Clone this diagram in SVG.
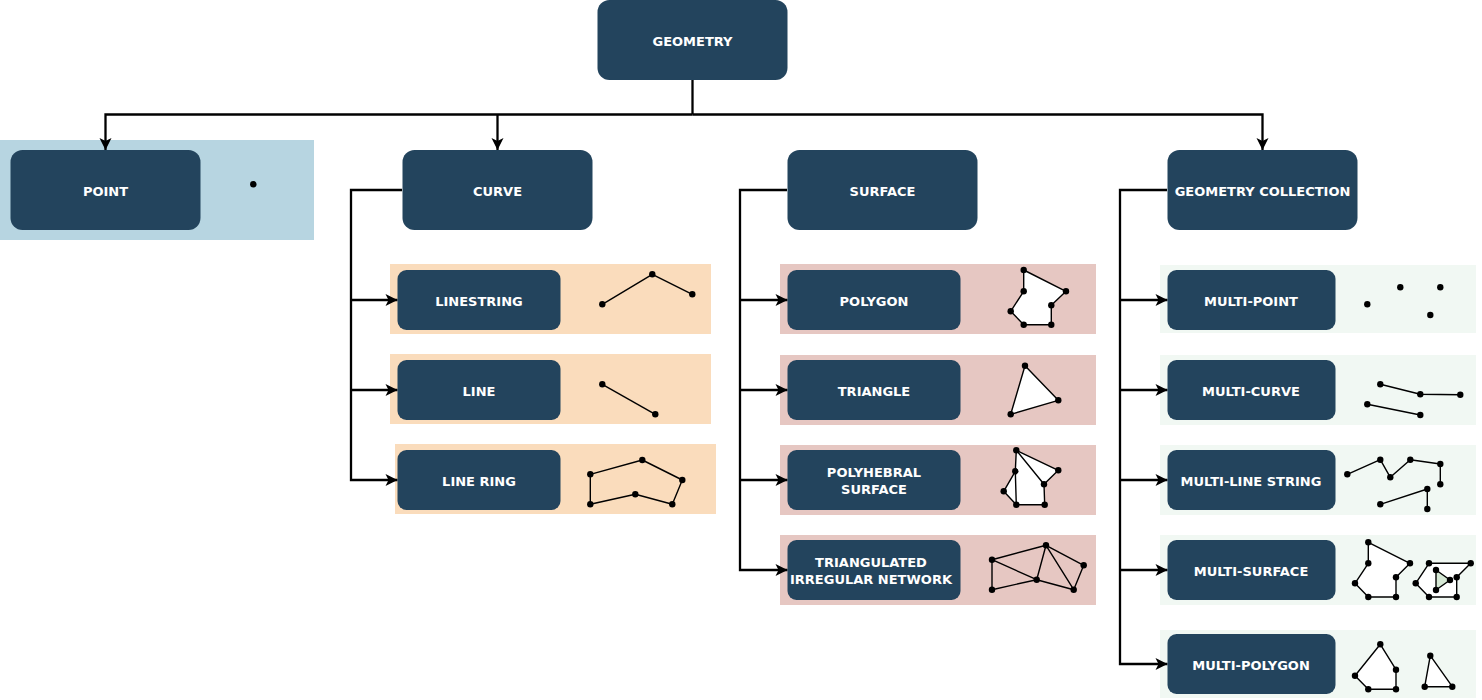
<svg xmlns="http://www.w3.org/2000/svg" width="1482" height="700" viewBox="0 0 1482 700">
<style>
.n{fill:#23445d}
.t{fill:#fff;font-family:"DejaVu Sans",sans-serif;font-weight:700;font-size:13px;text-anchor:middle}
.c{fill:none;stroke:#000;stroke-width:2.3}
.s{fill:none;stroke:#000;stroke-width:1.4;stroke-linejoin:round}
.w{fill:#fff;stroke:#000;stroke-width:1.4;stroke-linejoin:round}
.o{fill:#fadcbc}.r{fill:#e6c7c2}.g{fill:#f1f8f3}
</style>
<defs>
<marker id="a" markerUnits="userSpaceOnUse" markerWidth="14" markerHeight="14" refX="12" refY="6" orient="auto" overflow="visible"><path d="M0 0L12 6L0 12L3 6Z" fill="#000"/></marker>
<circle id="d" r="3.200" fill="#000"/>
</defs>
<g id="backgrounds">
<rect x="0" y="140" width="314" height="100" fill="#b7d5e1"/>
<rect class="o" x="390" y="264" width="321" height="70"/>
<rect class="o" x="390" y="354" width="321" height="70"/>
<rect class="o" x="395" y="444" width="321" height="70"/>
<rect class="r" x="780" y="264" width="316" height="70"/>
<rect class="r" x="780" y="355" width="316" height="70"/>
<rect class="r" x="780" y="445" width="316" height="70"/>
<rect class="r" x="780" y="535" width="316" height="70"/>
<rect class="g" x="1160" y="265" width="316" height="68"/>
<rect class="g" x="1160" y="355" width="316" height="70"/>
<rect class="g" x="1160" y="445" width="316" height="70"/>
<rect class="g" x="1160" y="535" width="316" height="70"/>
<rect class="g" x="1160" y="630" width="316" height="68"/>
</g>
<g id="connectors">
<path class="c" d="M692.500 80V114.500"/>
<path class="c" d="M692.500 114.500H105.500V150" marker-end="url(#a)"/>
<path class="c" d="M497.500 114.500V150" marker-end="url(#a)"/>
<path class="c" d="M692.500 114.500H1262.500V150" marker-end="url(#a)"/>
<path class="c" d="M402 190H351V480H397.500" marker-end="url(#a)"/>
<path class="c" d="M351 300H397.500" marker-end="url(#a)"/>
<path class="c" d="M351 390H397.500" marker-end="url(#a)"/>
<path class="c" d="M787 190H740V570H787.500" marker-end="url(#a)"/>
<path class="c" d="M740 300H787.500" marker-end="url(#a)"/>
<path class="c" d="M740 390H787.500" marker-end="url(#a)"/>
<path class="c" d="M740 480H787.500" marker-end="url(#a)"/>
<path class="c" d="M1167 190H1120V664H1167.500" marker-end="url(#a)"/>
<path class="c" d="M1120 300H1167.500" marker-end="url(#a)"/>
<path class="c" d="M1120 390H1167.500" marker-end="url(#a)"/>
<path class="c" d="M1120 480H1167.500" marker-end="url(#a)"/>
<path class="c" d="M1120 570H1167.500" marker-end="url(#a)"/>
</g>
<g id="geometry"><rect class="n" x="597.500" y="0" width="190" height="80" rx="12"/><text class="t" x="692.500" y="46">GEOMETRY</text></g>
<g id="point"><rect class="n" x="10.500" y="150" width="190" height="80" rx="12"/><text class="t" x="105.500" y="196">POINT</text></g>
<g id="curve"><rect class="n" x="402.500" y="150" width="190" height="80" rx="12"/><text class="t" x="497.500" y="196">CURVE</text></g>
<g id="surface"><rect class="n" x="787.500" y="150" width="190" height="80" rx="12"/><text class="t" x="882.500" y="196">SURFACE</text></g>
<g id="geometry-collection"><rect class="n" x="1167.500" y="150" width="190" height="80" rx="12"/><text class="t" x="1262.500" y="196">GEOMETRY COLLECTION</text></g>
<g id="linestring"><rect class="n" x="397.500" y="270" width="163" height="60" rx="9"/><text class="t" x="479" y="306">LINESTRING</text></g>
<g id="line"><rect class="n" x="397.500" y="360" width="163" height="60" rx="9"/><text class="t" x="479" y="396">LINE</text></g>
<g id="line-ring"><rect class="n" x="397.500" y="450" width="163" height="60" rx="9"/><text class="t" x="479" y="486">LINE RING</text></g>
<g id="polygon"><rect class="n" x="787.500" y="270" width="173" height="60" rx="9"/><text class="t" x="874" y="306">POLYGON</text></g>
<g id="triangle"><rect class="n" x="787.500" y="360" width="173" height="60" rx="9"/><text class="t" x="874" y="396">TRIANGLE</text></g>
<g id="polyhedral-surface"><rect class="n" x="787.500" y="450" width="173" height="60" rx="9"/><text class="t" x="874" y="477">POLYHEBRAL</text><text class="t" x="874" y="494">SURFACE</text></g>
<g id="tin"><rect class="n" x="787.500" y="540" width="173" height="60" rx="9"/><text class="t" x="871" y="567">TRIANGULATED</text><text class="t" x="871" y="584">IRREGULAR NETWORK</text></g>
<g id="multi-point"><rect class="n" x="1167.500" y="270" width="168" height="60" rx="9"/><text class="t" x="1251" y="306">MULTI-POINT</text></g>
<g id="multi-curve"><rect class="n" x="1167.500" y="360" width="168" height="60" rx="9"/><text class="t" x="1251" y="396">MULTI-CURVE</text></g>
<g id="multi-line-string"><rect class="n" x="1167.500" y="450" width="168" height="60" rx="9"/><text class="t" x="1251" y="486">MULTI-LINE STRING</text></g>
<g id="multi-surface"><rect class="n" x="1167.500" y="540" width="168" height="60" rx="9"/><text class="t" x="1251" y="576">MULTI-SURFACE</text></g>
<g id="multi-polygon"><rect class="n" x="1167.500" y="634" width="168" height="60" rx="9"/><text class="t" x="1251" y="670">MULTI-POLYGON</text></g>
<g id="glyphs">
<use href="#d" x="253.300" y="184.300"/>
<path class="s" d="M602.300 304.300L652.300 274.300L692.300 294.300"/>
<path class="s" d="M602.300 384.300L655.300 414.300"/>
<path class="s" d="M590.300 474.300L642.300 460L682.300 480L672.300 504.300L635.300 494.300L590.300 504.300Z"/>
<path class="w" d="M1023.700 270L1066 291.300L1051.300 305.300V324.700H1023.700L1010.700 311.300L1023.700 291.300Z"/>
<path class="w" d="M1025 365.700L1058.300 400.300L1010.700 414.300Z"/>
<path class="w" d="M1016.300 450.300L1058.300 470.300L1044 484.300L1044.700 504.700H1016.300L1003.700 491.300L1015.300 471.300Z"/>
<path class="s" d="M1016.300 450.300L1044 484.300M1015.300 471.300L1016.300 504.700"/>
<path class="s" d="M992 559.700L1046 545.300L1083.700 565.300L1073.700 589.700L1036.700 579.700L992 589.700ZM992 559.700L1036.700 579.700L1046 545.300L1073.700 589.700"/>
<path class="s" d="M1380.300 384.300L1420.300 394.300L1460.300 394.700M1367.300 404.300L1420.300 415"/>
<path class="s" d="M1347.300 474.300L1380.300 459.700L1390.300 477.300L1410.300 459.700L1440.300 464V484.300M1380.300 504.300L1427.300 489V509"/>
<path class="w" d="M1368.300 542.300L1410 563.300L1396 577.300V597H1368.300L1355 583.300L1368.300 563.300Z"/>
<path class="w" d="M1429 563.300H1470.700L1456.700 577.300V597H1429L1415.700 583.300Z"/>
<path d="M1436 570L1450 580L1436 590Z" fill="#d5e8d4" stroke="#000" stroke-width="1.400"/>
<path class="w" d="M1380.300 644.300L1396 669.700V689.300H1368.300L1355 675.700Z"/>
<path class="w" d="M1430.300 655.700L1452.300 686.700H1424.700Z"/>
<g id="dots">
<use href="#d" x="602.300" y="304.300"/><use href="#d" x="652.300" y="274.300"/><use href="#d" x="692.300" y="294.300"/>
<use href="#d" x="602.300" y="384.300"/><use href="#d" x="655.300" y="414.300"/>
<use href="#d" x="590.300" y="474.300"/><use href="#d" x="642.300" y="460"/><use href="#d" x="682.300" y="480"/><use href="#d" x="672.300" y="504.300"/><use href="#d" x="635.300" y="494.300"/><use href="#d" x="590.300" y="504.300"/>
<use href="#d" x="1023.700" y="270"/><use href="#d" x="1066" y="291.300"/><use href="#d" x="1051.300" y="305.300"/><use href="#d" x="1051.300" y="324.700"/><use href="#d" x="1023.700" y="324.700"/><use href="#d" x="1010.700" y="311.300"/><use href="#d" x="1023.700" y="291.300"/>
<use href="#d" x="1025" y="365.700"/><use href="#d" x="1058.300" y="400.300"/><use href="#d" x="1010.700" y="414.300"/>
<use href="#d" x="1016.300" y="450.300"/><use href="#d" x="1058.300" y="470.300"/><use href="#d" x="1044" y="484.300"/><use href="#d" x="1044.700" y="504.700"/><use href="#d" x="1016.300" y="504.700"/><use href="#d" x="1003.700" y="491.300"/><use href="#d" x="1015.300" y="471.300"/>
<use href="#d" x="992" y="559.700"/><use href="#d" x="1046" y="545.300"/><use href="#d" x="1083.700" y="565.300"/><use href="#d" x="1073.700" y="589.700"/><use href="#d" x="1036.700" y="579.700"/><use href="#d" x="992" y="589.700"/>
<use href="#d" x="1367.300" y="304.300"/><use href="#d" x="1400.300" y="287.300"/><use href="#d" x="1440.300" y="287.300"/><use href="#d" x="1430.300" y="315"/>
<use href="#d" x="1380.300" y="384.300"/><use href="#d" x="1420.300" y="394.300"/><use href="#d" x="1460.300" y="394.700"/><use href="#d" x="1367.300" y="404.300"/><use href="#d" x="1420.300" y="415"/>
<use href="#d" x="1347.300" y="474.300"/><use href="#d" x="1380.300" y="459.700"/><use href="#d" x="1390.300" y="477.300"/><use href="#d" x="1410.300" y="459.700"/><use href="#d" x="1440.300" y="464"/><use href="#d" x="1440.300" y="484.300"/><use href="#d" x="1380.300" y="504.300"/><use href="#d" x="1427.300" y="489"/><use href="#d" x="1427.300" y="509"/>
<use href="#d" x="1368.300" y="542.300"/><use href="#d" x="1410" y="563.300"/><use href="#d" x="1396" y="577.300"/><use href="#d" x="1396" y="597"/><use href="#d" x="1368.300" y="597"/><use href="#d" x="1355" y="583.300"/><use href="#d" x="1368.300" y="563.300"/>
<use href="#d" x="1429" y="563.300"/><use href="#d" x="1470.700" y="563.300"/><use href="#d" x="1456.700" y="577.300"/><use href="#d" x="1456.700" y="597"/><use href="#d" x="1429" y="597"/><use href="#d" x="1415.700" y="583.300"/><use href="#d" x="1436" y="570"/><use href="#d" x="1450" y="580"/><use href="#d" x="1436" y="590"/>
<use href="#d" x="1380.300" y="644.300"/><use href="#d" x="1396" y="669.700"/><use href="#d" x="1396" y="689.300"/><use href="#d" x="1368.300" y="689.300"/><use href="#d" x="1355" y="675.700"/>
<use href="#d" x="1430.300" y="655.700"/><use href="#d" x="1452.300" y="686.700"/><use href="#d" x="1424.700" y="686.700"/>
</g>
</g>
</svg>
